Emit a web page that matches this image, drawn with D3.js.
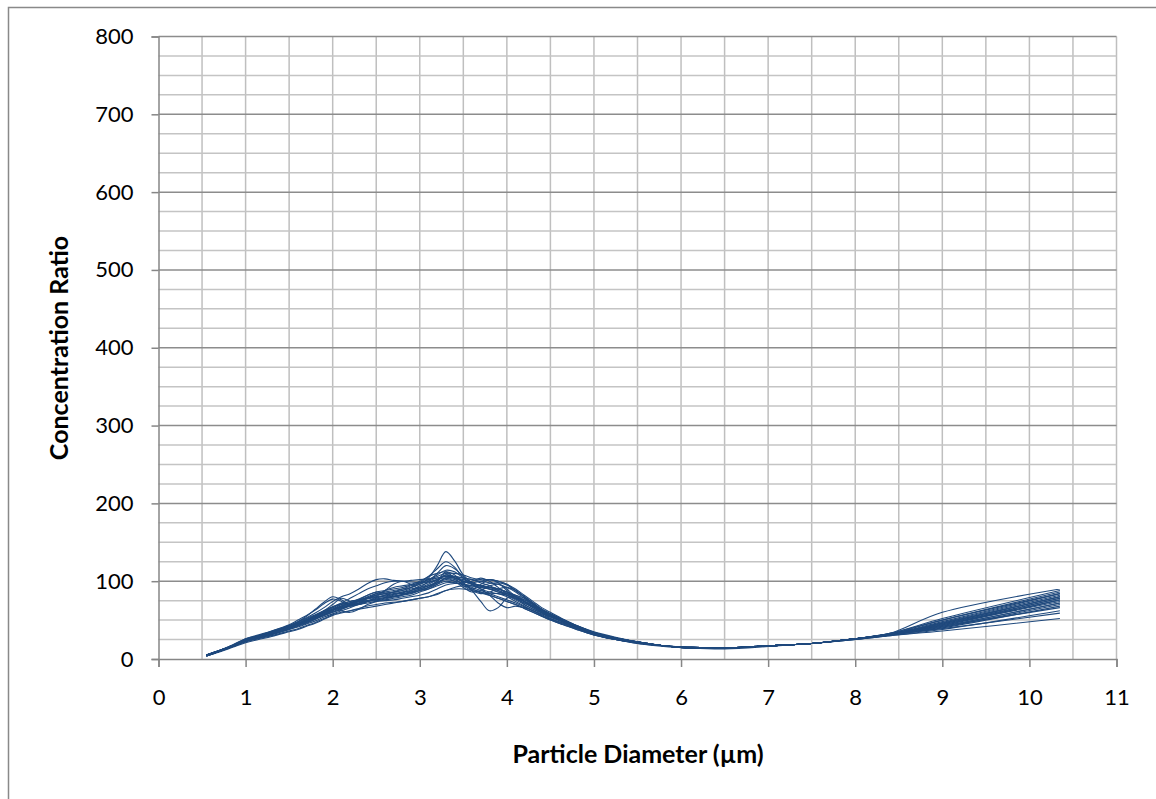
<!DOCTYPE html>
<html>
<head>
<meta charset="utf-8">
<script src="https://cdn.jsdelivr.net/npm/d3@7"></script>
<style>
  html, body { margin: 0; padding: 0; background: #fff; }
  svg { display: block; }
  text { font-family: Lato, "Open Sans", sans-serif; fill: #000; }
</style>
</head>
<body>
<svg id="chart" width="1156" height="799"></svg>
<script>
// Particle diameter sample points (µm)
const diameters = [0.55,0.7,0.85,1.0,1.15,1.3,1.5,
  1.6,1.7,1.8,1.9,2.0,2.1,2.2,2.3,2.4,
  2.5,2.6,2.7,2.8,2.9,3.0,3.1,3.2,3.3,
  3.4,3.5,3.6,3.7,3.8,3.9,4.0,4.1,4.2,
  4.3,4.4,4.5,4.65,4.8,5.0,5.25,5.5,5.8,
  6.1,6.5,7.0,7.5,8.0,8.4,9.0,10.35];

// Concentration ratio per run
const run01 = [5,11,18,26,30,35,42, 46,50,55,60,66,70,72,75,80, 84,86,88,90,92,96,104,120,138, 126,108,98,94,92,88,82,76,70, 64,59,55,48,42,34,27,22,17, 15,14,17,20,26,33,60,90];
const run02 = [5,10,17,24,28,33,40, 44,48,53,58,63,66,70,74,78, 82,84,86,88,92,98,106,116,125, 118,104,96,90,86,84,82,78,72, 66,60,55,48,41,33,26,21,17, 14,14,17,20,26,32,50,86];
const run03 = [4,10,16,23,27,32,38, 42,46,51,56,61,65,69,72,75, 77,79,80,82,84,88,92,98,104, 104,98,88,74,62,66,78,80,74, 66,60,55,47,40,32,25,21,17, 14,14,17,20,26,31,47,82];
const run04 = [5,11,17,25,30,36,43, 48,53,59,66,74,80,84,90,97, 102,103,101,100,101,102,103,104,106, 104,100,96,94,97,98,95,88,80, 72,64,58,50,43,34,27,22,17, 15,14,17,20,26,32,46,80];
const run05 = [5,11,17,25,30,35,43, 48,55,64,73,80,76,70,72,78, 84,86,85,84,86,90,94,100,108, 104,100,98,100,102,100,96,88,80, 72,64,57,49,42,34,27,22,17, 15,14,17,20,26,32,48,84];
const run06 = [4,10,16,23,27,31,38, 41,45,49,54,58,62,66,70,72, 74,75,76,78,80,82,85,90,95, 97,96,92,88,84,80,76,72,67, 62,57,52,46,40,32,25,21,17, 14,14,17,20,26,31,44,76];
const run07 = [5,10,16,22,26,30,36, 39,43,47,52,57,60,62,64,66, 68,70,72,74,76,78,80,84,88, 92,94,90,86,82,78,74,70,65, 60,55,50,44,38,31,25,20,17, 14,14,17,20,26,31,42,72];
const run08 = [5,11,17,25,29,34,41, 45,50,55,60,64,68,72,77,82, 86,88,90,92,95,98,102,108,114, 112,104,96,90,82,72,66,68,66, 62,56,51,45,39,31,25,21,17, 14,14,17,20,26,31,40,68];
const run09 = [4,10,16,24,28,33,40, 44,48,52,57,62,68,72,74,75, 76,78,80,83,85,88,90,94,98, 98,96,94,92,90,88,84,80,74, 68,62,56,49,42,33,26,21,17, 15,14,17,20,26,31,41,70];
const run10 = [5,11,17,25,29,34,41, 46,50,55,61,67,71,74,76,79, 82,84,86,88,92,96,100,104,106, 106,104,102,100,98,96,92,86,78, 70,63,57,50,43,34,27,22,17, 15,14,17,20,26,32,45,78];
const run11 = [5,11,18,26,31,36,44, 50,56,63,71,77,74,68,70,74, 78,82,86,90,94,98,102,106,110, 110,108,104,102,102,100,96,90,82, 74,66,60,51,43,35,28,22,17, 15,14,17,20,26,33,52,88];
const run12 = [4,9,15,21,25,29,35, 38,42,46,51,56,59,62,65,68, 70,72,73,74,76,78,80,83,88, 90,90,88,85,82,78,74,70,65, 60,55,50,44,38,31,25,20,16, 14,13,16,20,25,30,38,62];
const run13 = [5,10,16,24,28,33,40, 44,49,54,60,64,66,68,71,74, 77,79,81,83,86,88,92,96,100, 98,96,94,92,90,86,82,77,72, 67,62,57,49,42,33,26,21,17, 14,14,17,20,25,31,39,59];
const run14 = [4,10,16,23,27,32,39, 43,47,51,56,60,64,68,72,74, 75,76,78,80,82,86,90,96,104, 102,96,90,86,84,84,80,74,68, 62,58,54,47,40,32,25,21,17, 14,14,17,20,25,30,36,52];
const run15 = [5,11,17,25,30,35,42, 47,52,57,62,67,72,78,84,90, 94,98,100,100,99,98,99,102,108, 106,100,96,94,92,90,86,80,74, 68,62,56,49,42,34,26,21,17, 15,14,17,20,26,32,44,74];
const run16 = [5,10,17,24,28,33,40, 44,48,53,58,63,67,71,74,77, 79,81,83,85,88,92,100,110,120, 116,106,98,94,92,90,86,80,74, 67,61,56,49,42,33,26,21,17, 14,14,17,20,26,32,43,76];
const run17 = [4,10,17,24,28,33,40, 45,50,56,62,66,62,60,64,70, 74,77,80,83,86,90,94,98,104, 104,102,98,94,90,86,84,82,78, 70,63,57,49,42,33,26,21,17, 14,14,17,20,26,31,42,66];
const run18 = [5,11,17,25,29,34,41, 45,49,54,59,64,68,72,75,78, 80,82,84,86,88,92,96,102,108, 106,104,102,98,94,90,86,82,76, 70,64,58,50,42,34,27,22,17, 15,14,17,20,26,32,46,80];
const run19 = [4,10,16,24,28,33,40, 44,49,55,62,70,78,74,70,74, 80,88,96,100,96,90,92,100,112, 108,98,90,96,102,98,88,80,76, 72,62,54,48,42,33,26,21,17, 14,14,17,20,26,32,44,78];
const run20 = [5,11,17,25,29,34,41, 46,51,56,60,63,66,70,76,82, 86,84,80,82,88,94,98,102,104, 100,92,86,88,94,96,90,80,70, 64,60,58,50,42,33,26,21,17, 15,14,17,20,26,31,42,72];
const run21 = [5,10,16,23,27,32,39, 43,47,52,58,64,70,74,76,78, 82,88,92,94,96,100,106,110,112, 104,94,88,84,86,90,92,88,80, 70,60,52,46,40,32,26,21,17, 14,14,17,20,26,32,46,80];
const run22 = [4,10,16,24,28,33,40, 44,48,52,56,60,64,69,74,78, 80,80,82,86,90,92,94,98,102, 100,98,100,104,100,92,84,78,74, 70,64,58,50,42,34,27,22,17, 15,14,17,20,26,33,50,84];

const runs = [run01,run02,run03,run04,run05,run06,run07,run08,run09,run10,run11,
              run12,run13,run14,run15,run16,run17,run18,run19,run20,run21,run22];

const xTicks = [0,1,2,3,4,5,6,7,8,9,10,11];
const yTicks = [0,100,200,300,400,500,600,700,800];

const svg = d3.select("#chart");

// outer chart frame
svg.append("rect")
  .attr("x", 8.5).attr("y", 7.5)
  .attr("width", 1300).attr("height", 900)
  .attr("fill", "none").attr("stroke", "#898989").attr("stroke-width", 1.5);

const x = d3.scaleLinear().domain([0, 11]).range([158.5, 1116.5]);
const y = d3.scaleLinear().domain([0, 800]).range([659, 36.5]);

const grid = svg.append("g");
// vertical grid every 0.5
d3.range(0.5, 11.01, 0.5).forEach(v => {
  grid.append("line")
    .attr("x1", x(v)).attr("x2", x(v))
    .attr("y1", y(800)).attr("y2", y(0))
    .attr("stroke", "#bfbfbf").attr("stroke-width", 1.5);
});
// horizontal grid every 25, darker at each 100
d3.range(25, 801, 25).forEach(v => {
  const major = v % 100 === 0;
  grid.append("line")
    .attr("x1", x(0)).attr("x2", x(11))
    .attr("y1", y(v)).attr("y2", y(v))
    .attr("stroke", major ? "#8c8c8c" : "#c4c4c4").attr("stroke-width", 1.5);
});

// axes
const xAxis = d3.axisBottom(x).tickValues(xTicks).tickSize(8).tickPadding(22).tickFormat(d3.format("d"));
const yAxis = d3.axisLeft(y).tickValues(yTicks).tickSize(7).tickPadding(18).tickFormat(d3.format("d"));

const gx = svg.append("g").attr("transform", `translate(0,${y(0)})`).call(xAxis);
const gy = svg.append("g").attr("transform", `translate(${x(0)},0)`).call(yAxis);
[gx, gy].forEach(g => {
  g.select(".domain").attr("stroke", "#868686").attr("stroke-width", 1.5);
  g.selectAll(".tick line").attr("stroke", "#868686").attr("stroke-width", 1.5);
  g.selectAll(".tick text").attr("font-size", 22).attr("font-family", "Lato, sans-serif").attr("fill", "#000");
});

// data lines
const line = d3.line()
  .x((d, i) => x(diameters[i]))
  .y(d => y(d))
  .curve(d3.curveCatmullRom.alpha(0.5));

svg.append("g").selectAll("path")
  .data(runs)
  .join("path")
  .attr("d", line)
  .attr("fill", "none")
  .attr("stroke", "#1f497d")
  .attr("stroke-width", 1.1);

// axis titles
svg.append("text")
  .attr("x", 638).attr("y", 763)
  .attr("text-anchor", "middle")
  .attr("font-size", 25).attr("font-weight", "bold")
  .text("Particle Diameter (µm)");

svg.append("text")
  .attr("transform", "translate(68,348) rotate(-90)")
  .attr("text-anchor", "middle")
  .attr("font-size", 25).attr("font-weight", "bold")
  .text("Concentration Ratio");
</script>
</body>
</html>
